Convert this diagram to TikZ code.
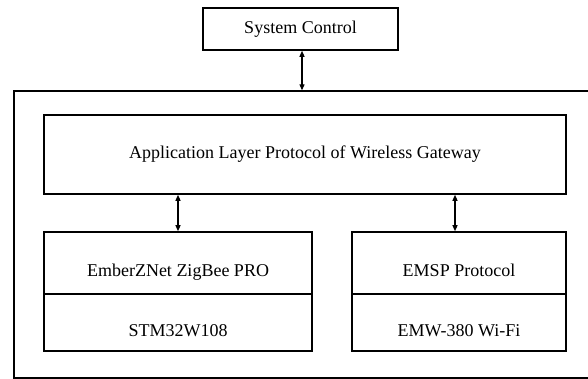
\documentclass[tikz,border=0pt]{standalone}
\usepackage{fontspec}
\setmainfont{Liberation Serif}
\usetikzlibrary{arrows.meta}
\begin{document}
\begin{tikzpicture}[x=1pt,y=-1pt,
  box/.style={draw=black,line width=1.6pt,fill=white,inner sep=0pt,font=\fontsize{18}{20}\selectfont,text depth=0pt},
  link/.style={line width=1.2pt,{Triangle[length=6pt,width=5pt]}-{Triangle[length=6pt,width=5pt]}}]
\useasboundingbox (0,0) rectangle (588,379);
\node[draw=black,line width=1.4pt,minimum width=586pt,minimum height=287pt,inner sep=0pt] (outer) at (307,234.5) {};
\node[box,minimum width=195pt,minimum height=42pt,text height=10pt] (sys) at (300.5,29) {System Control};
\node[box,minimum width=522pt,minimum height=79pt,text height=8pt] (app) at (305,154.5) {Application Layer Protocol of Wireless Gateway};
\node[box,minimum width=268pt,minimum height=62pt,text height=26pt] (zig) at (178,263) {EmberZNet ZigBee PRO};
\node[box,minimum width=268pt,minimum height=57pt,text height=28pt] (stm) at (178,322.5) {STM32W108};
\node[box,minimum width=214pt,minimum height=62pt,text height=26pt] (emsp) at (459,263) {EMSP Protocol};
\node[box,minimum width=214pt,minimum height=57pt,text height=28pt] (emw) at (459,322.5) {EMW-380 Wi-Fi};
\draw[link] ([xshift=1.5pt]sys.south) -- ([xshift=1.5pt]sys.south |- outer.north);
\draw[link] (app.south -| zig.north) -- (zig.north);
\draw[link] ([xshift=-4pt]emsp.north |- app.south) -- ([xshift=-4pt]emsp.north);
\end{tikzpicture}
\end{document}
